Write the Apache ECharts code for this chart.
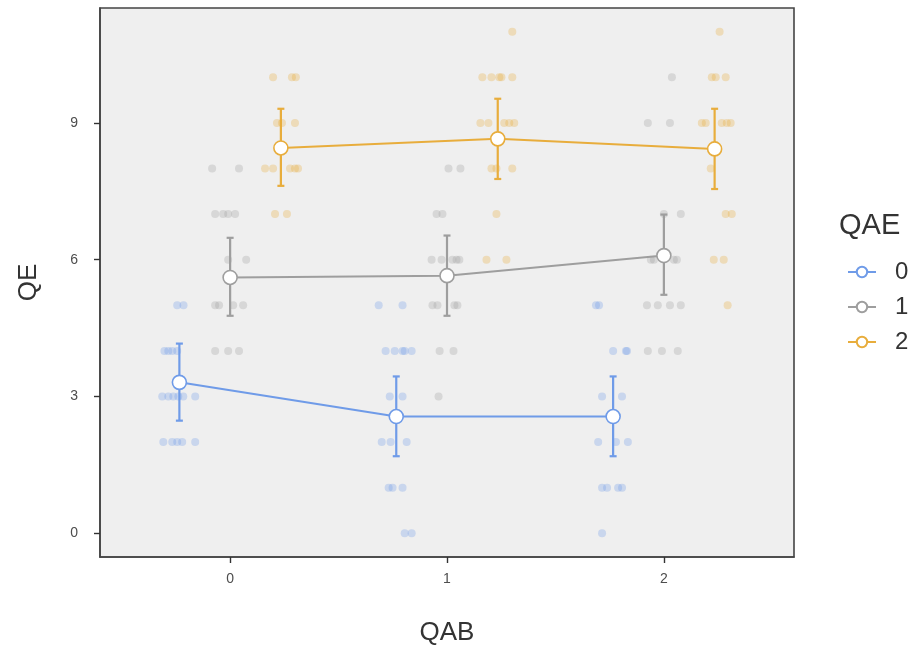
<!DOCTYPE html>
<html>
<head>
<meta charset="utf-8">
<script src="https://cdn.jsdelivr.net/npm/echarts@6/dist/echarts.min.js"></script>
<style>
html,body{margin:0;padding:0;background:#fff;}
#chart{width:922px;height:651px;}
</style>
</head>
<body>
<div id="chart"></div>
<script>
// Categories
const qabLevels = [0, 1, 2];
const qaeLevels = ['0', '1', '2'];
const dodge = [-0.234, 0, 0.234];
const yTicks = [0, 3, 6, 9];

// Means and 95% CI per QAE level (index = QAB level)
const means0 = [3.31, 2.56, 2.56];
const lo0 = [2.47, 1.69, 1.69];
const hi0 = [4.16, 3.44, 3.44];
const means1 = [5.61, 5.65, 6.09];
const lo1 = [4.77, 4.77, 5.23];
const hi1 = [6.48, 6.53, 6.99];
const means2 = [8.45, 8.65, 8.43];
const lo2 = [7.62, 7.77, 7.55];
const hi2 = [9.31, 9.53, 9.31];

// Jittered raw observations [x, QE]
const pts0 = [
  [-0.244,5],[-0.215,5],
  [-0.303,4],[-0.285,4],[-0.267,4],[-0.244,4],
  [-0.313,3],[-0.285,3],[-0.262,3],[-0.239,3],[-0.216,3],[-0.161,3],
  [-0.308,2],[-0.267,2],[-0.244,2],[-0.221,2],[-0.161,2],
  [0.685,5],[0.795,5],
  [0.717,4],[0.759,4],[0.795,4],[0.805,4],[0.837,4],
  [0.736,3],[0.795,3],
  [0.699,2],[0.740,2],[0.814,2],
  [0.731,1],[0.749,1],[0.795,1],
  [0.805,0],[0.837,0],
  [1.687,5],[1.701,5],
  [1.766,4],[1.825,4],[1.830,4],
  [1.715,3],[1.807,3],
  [1.697,2],[1.779,2],[1.834,2],
  [1.715,1],[1.738,1],[1.789,1],[1.807,1],
  [1.715,0]
];
const pts1 = [
  [-0.083,8],[0.041,8],
  [-0.069,7],[-0.032,7],[-0.009,7],[0.023,7],
  [-0.009,6],[0.074,6],
  [-0.069,5],[-0.051,5],[0.014,5],[0.060,5],
  [-0.069,4],[-0.009,4],[0.041,4],
  [1.007,8],[1.062,8],
  [0.952,7],[0.979,7],
  [0.929,6],[0.975,6],[1.025,6],[1.044,6],[1.057,6],
  [0.933,5],[0.956,5],[1.034,5],[1.048,5],
  [0.966,4],[1.030,4],
  [0.961,3],
  [2.037,10],
  [1.926,9],[2.028,9],
  [2.000,7],[2.078,7],
  [1.940,6],[1.954,6],[2.046,6],[2.060,6],
  [1.922,5],[1.972,5],[2.028,5],[2.078,5],
  [1.926,4],[1.991,4],[2.064,4]
];
const pts2 = [
  [0.198,10],[0.285,10],[0.303,10],
  [0.216,9],[0.239,9],[0.299,9],
  [0.161,8],[0.198,8],[0.276,8],[0.299,8],[0.313,8],
  [0.207,7],[0.262,7],
  [1.301,11],
  [1.163,10],[1.205,10],[1.241,10],[1.251,10],[1.301,10],
  [1.154,9],[1.191,9],[1.264,9],[1.287,9],[1.310,9],
  [1.205,8],[1.228,8],[1.301,8],
  [1.228,7],
  [1.182,6],[1.274,6],
  [2.257,11],
  [2.221,10],[2.239,10],[2.285,10],
  [2.175,9],[2.193,9],[2.267,9],[2.290,9],[2.308,9],
  [2.216,8],
  [2.285,7],[2.313,7],
  [2.230,6],[2.276,6],
  [2.294,5]
];

const colors = ['#6f9be8', '#9e9e9e', '#e8ad3c'];
const allMeans = [means0, means1, means2];
const allLo = [lo0, lo1, lo2];
const allHi = [hi0, hi1, hi2];
const allPts = [pts0, pts1, pts2];
const FONT = 'Liberation Sans, Arial, sans-serif';

const series = [];
qaeLevels.forEach((name, g) => {
  series.push({
    type: 'scatter',
    name: 'pts' + name,
    data: allPts[g],
    symbol: 'circle',
    symbolSize: 8,
    itemStyle: { color: colors[g], opacity: 0.3 },
    z: 1,
    silent: true
  });
});
qaeLevels.forEach((name, g) => {
  const ebData = qabLevels.map((q, i) => [q + dodge[g], allLo[g][i], allHi[g][i]]);
  series.push({
    type: 'custom',
    name: 'eb' + name,
    data: ebData,
    z: 2,
    renderItem: function (params, api) {
      const x = api.value(0);
      const p1 = api.coord([x, api.value(1)]);
      const p2 = api.coord([x, api.value(2)]);
      const cw = 3.5;
      const st = { stroke: colors[g], lineWidth: 2.2 };
      return {
        type: 'group',
        children: [
          { type: 'line', shape: { x1: p1[0], y1: p1[1], x2: p2[0], y2: p2[1] }, style: st },
          { type: 'line', shape: { x1: p1[0] - cw, y1: p1[1], x2: p1[0] + cw, y2: p1[1] }, style: st },
          { type: 'line', shape: { x1: p2[0] - cw, y1: p2[1], x2: p2[0] + cw, y2: p2[1] }, style: st }
        ]
      };
    }
  });
});
qaeLevels.forEach((name, g) => {
  series.push({
    type: 'line',
    name: name,
    data: qabLevels.map((q, i) => [q + dodge[g], allMeans[g][i]]),
    symbol: 'circle',
    symbolSize: 14,
    showAllSymbol: true,
    lineStyle: { color: colors[g], width: 2 },
    itemStyle: { color: '#ffffff', borderColor: colors[g], borderWidth: 1.6 },
    z: 3
  });
});

const chart = echarts.init(document.getElementById('chart'), null, { renderer: 'canvas' });
chart.setOption({
  animation: false,
  color: colors,
  textStyle: { fontFamily: FONT },
  grid: {
    left: 100, right: 128, top: 8, bottom: 93,
    show: true, backgroundColor: '#efefef', borderColor: '#444', borderWidth: 1.6
  },
  xAxis: {
    type: 'value',
    min: -0.6, max: 2.6,
    name: 'QAB',
    nameLocation: 'middle',
    nameGap: 63,
    nameTextStyle: { fontSize: 26, color: '#333', fontFamily: FONT },
    splitLine: { show: false },
    axisLine: { show: true, onZero: false, lineStyle: { color: '#444', width: 1.6 } },
    axisTick: { show: true, length: 6, lineStyle: { color: '#333', width: 1.4 }, customValues: qabLevels },
    axisLabel: { fontSize: 14, color: '#4d4d4d', margin: 15, customValues: qabLevels }
  },
  yAxis: {
    type: 'value',
    min: -0.52, max: 11.52,
    name: 'QE',
    nameLocation: 'middle',
    nameGap: 58,
    nameTextStyle: { fontSize: 26, color: '#333', fontFamily: FONT },
    splitLine: { show: false },
    axisLine: { show: true, onZero: false, lineStyle: { color: '#444', width: 1.6 } },
    axisTick: { show: true, length: 6, lineStyle: { color: '#333', width: 1.4 }, customValues: yTicks },
    axisLabel: { fontSize: 14, color: '#4d4d4d', margin: 22, customValues: yTicks }
  },
  legend: {
    data: qaeLevels,
    orient: 'vertical',
    left: 842,
    top: 255,
    itemWidth: 28,
    itemHeight: 13,
    itemGap: 11,
    textStyle: { fontSize: 24, color: '#333', fontFamily: FONT, padding: [0, 0, 0, 14] }
  },
  graphic: [{
    type: 'text',
    left: 839,
    top: 211,
    style: { text: 'QAE', fontSize: 29, fill: '#333', fontFamily: FONT }
  }],
  series: series
});
</script>
</body>
</html>
